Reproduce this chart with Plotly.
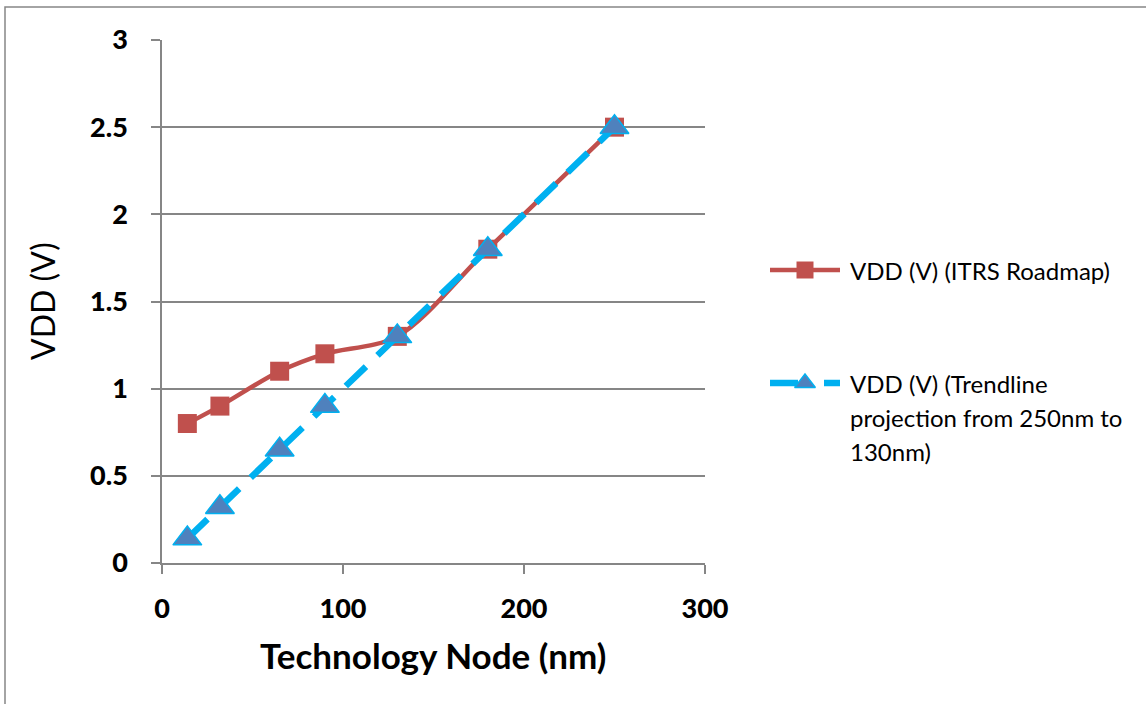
import plotly.graph_objects as go

# Technology node (nm) and supply voltage (V)
node_nm = [14, 32, 65, 90, 130, 180, 250]
vdd_itrs = [0.8, 0.9, 1.1, 1.2, 1.3, 1.8, 2.5]
vdd_trend = [0.14, 0.32, 0.65, 0.9, 1.3, 1.8, 2.5]

name_itrs = "VDD (V) (ITRS Roadmap)"
name_trend = "VDD (V) (Trendline projection from 250nm to 130nm)"
legend_trend_lines = ["VDD (V) (Trendline", "projection from 250nm to", "130nm)"]

x_ticks = [0, 100, 200, 300]
y_ticks = [0, 0.5, 1, 1.5, 2, 2.5, 3]
y_tick_text = ["0", "0.5", "1", "1.5", "2", "2.5", "3"]

W, H = 1146, 704
RED = "#C0504D"
CYAN = "#00B0F0"
BLUE_FILL = "#4F81BD"
GRID = "#868686"
FONT = "Lato"

fig = go.Figure()

fig.add_trace(go.Scatter(
    x=node_nm, y=vdd_itrs, name=name_itrs, mode="lines+markers",
    line=dict(color=RED, width=4.5, shape="spline", smoothing=0.9),
    marker=dict(symbol="square", size=19, color=RED),
    showlegend=False,
))
fig.add_trace(go.Scatter(
    x=node_nm, y=vdd_trend, name=name_trend, mode="lines+markers",
    line=dict(color=CYAN, width=6.5, dash="28px,16px"),
    marker=dict(symbol="triangle-up", size=25, color=BLUE_FILL,
                line=dict(color=CYAN, width=1.5)),
    showlegend=False,
))

# Legend, drawn on a pixel-space overlay axis pair
lx0, lx1, lxm = 770, 840, 805
fig.add_trace(go.Scatter(
    x=[lx0, lx1], y=[270, 270], xaxis="x2", yaxis="y2", mode="lines",
    line=dict(color=RED, width=4.5), showlegend=False, hoverinfo="skip"))
fig.add_trace(go.Scatter(
    x=[lxm], y=[270], xaxis="x2", yaxis="y2", mode="markers",
    marker=dict(symbol="square", size=17, color=RED),
    showlegend=False, hoverinfo="skip"))
for seg in ([lx0, 798], [824, lx1]):
    fig.add_trace(go.Scatter(
        x=seg, y=[383, 383], xaxis="x2", yaxis="y2", mode="lines",
        line=dict(color=CYAN, width=6.5), showlegend=False, hoverinfo="skip"))
fig.add_trace(go.Scatter(
    x=[lxm], y=[383], xaxis="x2", yaxis="y2", mode="markers",
    marker=dict(symbol="triangle-up", size=18, color=BLUE_FILL,
                line=dict(color=CYAN, width=1.5)),
    showlegend=False, hoverinfo="skip"))

annotations = [
    dict(text=name_itrs, x=848, y=270, xref="x2", yref="y2",
         xanchor="left", yanchor="middle", showarrow=False,
         font=dict(family=FONT, size=24, color="black")),
]
for i, line in enumerate(legend_trend_lines):
    annotations.append(dict(
        text=line, x=848, y=383 + i * 34, xref="x2", yref="y2",
        xanchor="left", yanchor="middle", showarrow=False,
        font=dict(family=FONT, size=24, color="black")))

# Axis titles
annotations.append(dict(
    text="<b>Technology Node (nm)</b>", x=433, y=655, xref="x2", yref="y2",
    xanchor="center", yanchor="middle", showarrow=False,
    font=dict(family=FONT, size=35, color="black")))
annotations.append(dict(
    text="VDD (V)", x=42, y=301, xref="x2", yref="y2", textangle=-90,
    xanchor="center", yanchor="middle", showarrow=False,
    font=dict(family=FONT, size=32, color="black")))

x_left, x_right = 162, 705
y_top, y_bottom = 40, 563

fig.update_layout(
    width=W, height=H,
    margin=dict(l=0, r=0, t=0, b=0),
    paper_bgcolor="white", plot_bgcolor="rgba(0,0,0,0)",
    font=dict(family=FONT, color="black"),
    xaxis=dict(
        domain=[x_left / W, x_right / W], range=[0, 300],
        tickvals=x_ticks, ticks="outside", ticklen=9, tickwidth=1.5,
        tickcolor=GRID, showline=True, linecolor=GRID, linewidth=1.5,
        showgrid=False, zeroline=False, automargin=False,
        tickfont=dict(family=FONT, size=27, color="black", weight=900),
        ticklabelstandoff=12,
    ),
    yaxis=dict(
        domain=[1 - y_bottom / H, 1 - y_top / H], range=[0, 3],
        tickvals=y_ticks, ticktext=y_tick_text, ticks="outside", ticklen=9,
        tickwidth=1.5, tickcolor=GRID, showline=True, linecolor=GRID,
        linewidth=1.5, showgrid=True, gridcolor=GRID, gridwidth=1.5,
        zeroline=False, automargin=False,
        tickfont=dict(family=FONT, size=27, color="black", weight=900),
        ticklabelstandoff=18,
    ),
    xaxis2=dict(domain=[0, 1], range=[0, W], visible=False, anchor="y2",
                fixedrange=True),
    yaxis2=dict(domain=[0, 1], range=[H, 0], visible=False, anchor="x2",
                fixedrange=True),
    annotations=annotations,
    shapes=[dict(type="rect", xref="paper", yref="paper",
                 x0=5 / W, x1=1.02, y0=-0.02, y1=1 - 7 / H,
                 line=dict(color=GRID, width=1.5))],
)

fig.write_html("out.html")
